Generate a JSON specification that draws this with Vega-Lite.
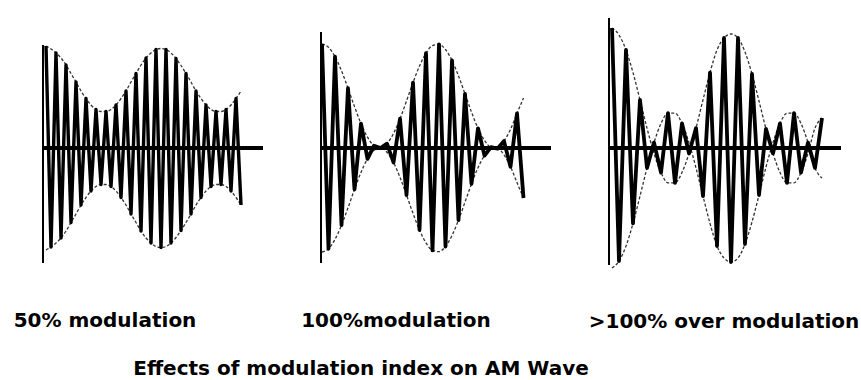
{
  "$schema": "https://vega.github.io/schema/vega-lite/v6.json",
  "background": "white",
  "padding": {"left": 13, "top": 10, "right": 3, "bottom": 0},
  "bounds": "flush",
  "spacing": 58,
  "title": {"text": "Effects of modulation index on AM Wave", "orient": "bottom", "anchor": "middle", "frame": "group", "dx": 318, "offset": 27},
  "config": {
    "view": {"stroke": null},
    "title": {"font": "DejaVu Sans", "fontSize": 20, "fontWeight": "bold", "color": "black"}
  },
  "datasets": {
    "p1": [
      {"t": 3, "c": 1.02, "hi": 1.02, "lo": -1.02},
      {"t": 8, "c": -0.99, "hi": 0.99, "lo": -0.99},
      {"t": 13, "c": 0.95, "hi": 0.95, "lo": -0.95},
      {"t": 18, "c": -0.9, "hi": 0.9, "lo": -0.9},
      {"t": 23, "c": 0.83, "hi": 0.83, "lo": -0.83},
      {"t": 28, "c": -0.745, "hi": 0.745, "lo": -0.745},
      {"t": 33, "c": 0.66, "hi": 0.66, "lo": -0.66},
      {"t": 38, "c": -0.57, "hi": 0.57, "lo": -0.57},
      {"t": 43, "c": 0.495, "hi": 0.495, "lo": -0.495},
      {"t": 48, "c": -0.43, "hi": 0.43, "lo": -0.43},
      {"t": 53, "c": 0.385, "hi": 0.385, "lo": -0.385},
      {"t": 58, "c": -0.365, "hi": 0.365, "lo": -0.365},
      {"t": 63, "c": 0.365, "hi": 0.365, "lo": -0.365},
      {"t": 68, "c": -0.385, "hi": 0.385, "lo": -0.385},
      {"t": 73, "c": 0.43, "hi": 0.43, "lo": -0.43},
      {"t": 78, "c": -0.495, "hi": 0.495, "lo": -0.495},
      {"t": 83, "c": 0.57, "hi": 0.57, "lo": -0.57},
      {"t": 88, "c": -0.66, "hi": 0.66, "lo": -0.66},
      {"t": 93, "c": 0.745, "hi": 0.745, "lo": -0.745},
      {"t": 98, "c": -0.83, "hi": 0.83, "lo": -0.83},
      {"t": 103, "c": 0.9, "hi": 0.9, "lo": -0.9},
      {"t": 108, "c": -0.95, "hi": 0.95, "lo": -0.95},
      {"t": 113, "c": 0.985, "hi": 0.985, "lo": -0.985},
      {"t": 118, "c": -0.995, "hi": 0.995, "lo": -0.995},
      {"t": 123, "c": 0.985, "hi": 0.985, "lo": -0.985},
      {"t": 128, "c": -0.95, "hi": 0.95, "lo": -0.95},
      {"t": 133, "c": 0.895, "hi": 0.895, "lo": -0.895},
      {"t": 138, "c": -0.825, "hi": 0.825, "lo": -0.825},
      {"t": 143, "c": 0.745, "hi": 0.745, "lo": -0.745},
      {"t": 148, "c": -0.66, "hi": 0.66, "lo": -0.66},
      {"t": 153, "c": 0.57, "hi": 0.57, "lo": -0.57},
      {"t": 158, "c": -0.495, "hi": 0.495, "lo": -0.495},
      {"t": 163, "c": 0.43, "hi": 0.43, "lo": -0.43},
      {"t": 168, "c": -0.385, "hi": 0.385, "lo": -0.385},
      {"t": 173, "c": 0.365, "hi": 0.365, "lo": -0.365},
      {"t": 178, "c": -0.365, "hi": 0.365, "lo": -0.365},
      {"t": 183, "c": 0.385, "hi": 0.385, "lo": -0.385},
      {"t": 188, "c": -0.43, "hi": 0.43, "lo": -0.43},
      {"t": 193, "c": 0.495, "hi": 0.495, "lo": -0.495},
      {"t": 198, "c": -0.57, "hi": 0.57, "lo": -0.57}
    ],
    "p2": [
      {"t": 1, "c": 1.04, "hi": 1.04, "lo": -1.04},
      {"t": 7.5, "c": -1.008, "hi": 1.008, "lo": -1.008},
      {"t": 14, "c": 0.914, "hi": 0.914, "lo": -0.914},
      {"t": 20.5, "c": -0.772, "hi": 0.772, "lo": -0.772},
      {"t": 27, "c": 0.598, "hi": 0.598, "lo": -0.598},
      {"t": 33.5, "c": -0.414, "hi": 0.414, "lo": -0.414},
      {"t": 40, "c": 0.244, "hi": 0.244, "lo": -0.244},
      {"t": 46.5, "c": -0.108, "hi": 0.108, "lo": -0.108},
      {"t": 53, "c": 0.023, "hi": 0.023, "lo": -0.023},
      {"t": 59.5, "c": 0, "hi": 0, "lo": 0},
      {"t": 66, "c": 0.043, "hi": 0.043, "lo": -0.043},
      {"t": 72.5, "c": -0.145, "hi": 0.145, "lo": -0.145},
      {"t": 79, "c": 0.293, "hi": 0.293, "lo": -0.293},
      {"t": 85.5, "c": -0.47, "hi": 0.47, "lo": -0.47},
      {"t": 92, "c": 0.653, "hi": 0.653, "lo": -0.653},
      {"t": 98.5, "c": -0.82, "hi": 0.82, "lo": -0.82},
      {"t": 105, "c": 0.949, "hi": 0.949, "lo": -0.949},
      {"t": 111.5, "c": -1.024, "hi": 1.024, "lo": -1.024},
      {"t": 118, "c": 1.037, "hi": 1.037, "lo": -1.037},
      {"t": 124.5, "c": -0.985, "hi": 0.985, "lo": -0.985},
      {"t": 131, "c": 0.875, "hi": 0.875, "lo": -0.875},
      {"t": 137.5, "c": -0.721, "hi": 0.721, "lo": -0.721},
      {"t": 144, "c": 0.541, "hi": 0.541, "lo": -0.541},
      {"t": 150.5, "c": -0.359, "hi": 0.359, "lo": -0.359},
      {"t": 157, "c": 0.197, "hi": 0.197, "lo": -0.197},
      {"t": 163.5, "c": -0.076, "hi": 0.076, "lo": -0.076},
      {"t": 170, "c": 0.009, "hi": 0.009, "lo": -0.009},
      {"t": 176.5, "c": -0.007, "hi": 0.007, "lo": -0.007},
      {"t": 183, "c": 0.069, "hi": 0.069, "lo": -0.069},
      {"t": 189.5, "c": -0.187, "hi": 0.187, "lo": -0.187},
      {"t": 196, "c": 0.346, "hi": 0.346, "lo": -0.346},
      {"t": 202.5, "c": -0.5, "hi": 0.5, "lo": -0.5}
    ],
    "p3": [
      {"t": 3, "c": 1.2, "hi": 1.2, "lo": -1.2},
      {"t": 10, "c": -1.13, "hi": 1.13, "lo": -1.13},
      {"t": 17, "c": 0.98, "hi": 0.98, "lo": -0.98},
      {"t": 24, "c": -0.754, "hi": 0.754, "lo": -0.754},
      {"t": 31, "c": 0.481, "hi": 0.481, "lo": -0.481},
      {"t": 38, "c": -0.199, "hi": 0.199, "lo": -0.199},
      {"t": 45, "c": 0.054, "hi": -0.054, "lo": 0.054},
      {"t": 52, "c": -0.245, "hi": -0.245, "lo": 0.245},
      {"t": 59, "c": 0.348, "hi": -0.348, "lo": 0.348},
      {"t": 66, "c": -0.348, "hi": -0.348, "lo": 0.348},
      {"t": 73, "c": 0.245, "hi": -0.245, "lo": 0.245},
      {"t": 80, "c": -0.054, "hi": -0.054, "lo": 0.054},
      {"t": 87, "c": 0.199, "hi": 0.199, "lo": -0.199},
      {"t": 94, "c": -0.481, "hi": 0.481, "lo": -0.481},
      {"t": 101, "c": 0.754, "hi": 0.754, "lo": -0.754},
      {"t": 108, "c": -0.98, "hi": 0.98, "lo": -0.98},
      {"t": 115, "c": 1.1, "hi": 1.1, "lo": -1.1},
      {"t": 122, "c": -1.14, "hi": 1.14, "lo": -1.14},
      {"t": 129, "c": 1.1, "hi": 1.1, "lo": -1.1},
      {"t": 136, "c": -0.96, "hi": 0.96, "lo": -0.96},
      {"t": 143, "c": 0.74, "hi": 0.74, "lo": -0.74},
      {"t": 150, "c": -0.47, "hi": 0.47, "lo": -0.47},
      {"t": 157, "c": 0.19, "hi": 0.19, "lo": -0.19},
      {"t": 164, "c": -0.054, "hi": -0.054, "lo": 0.054},
      {"t": 171, "c": 0.245, "hi": -0.245, "lo": 0.245},
      {"t": 178, "c": -0.348, "hi": -0.348, "lo": 0.348},
      {"t": 185, "c": 0.348, "hi": -0.348, "lo": 0.348},
      {"t": 192, "c": -0.245, "hi": -0.245, "lo": 0.245},
      {"t": 199, "c": 0.054, "hi": -0.054, "lo": 0.054},
      {"t": 206, "c": -0.199, "hi": 0.199, "lo": -0.199},
      {"t": 213, "c": 0.3, "hi": 0.3, "lo": -0.3}
    ]
  },
  "hconcat": [
    {
      "width": 220, "height": 260,
      "title": {"text": "50% modulation", "orient": "bottom", "anchor": "middle", "dx": -48, "offset": 41},
      "data": {"name": "p1"},
      "encoding": {
        "x": {"field": "t", "type": "quantitative", "scale": {"domain": [0, 220], "nice": false, "zero": false}, "axis": null}
      },
      "layer": [
        {"mark": {"type": "line", "color": "#333", "strokeWidth": 1.3, "strokeDash": [3, 2], "interpolate": "monotone"},
         "encoding": {"y": {"field": "hi", "type": "quantitative", "scale": {"domain": [-1.22, 1.38], "nice": false, "zero": false}, "axis": null}}},
        {"mark": {"type": "line", "color": "#333", "strokeWidth": 1.3, "strokeDash": [3, 2], "interpolate": "monotone"},
         "encoding": {"y": {"field": "lo", "type": "quantitative"}}},
        {"mark": {"type": "line", "color": "black", "strokeWidth": 3.4, "strokeJoin": "round"},
         "encoding": {"y": {"field": "c", "type": "quantitative"}}},
        {"mark": {"type": "rule", "color": "black", "strokeWidth": 4},
         "encoding": {"x": {"datum": 0}, "x2": {"datum": 220}, "y": {"datum": 0}}},
        {"mark": {"type": "rule", "color": "black", "strokeWidth": 2},
         "encoding": {"x": {"datum": 0}, "y": {"datum": -1.15}, "y2": {"datum": 1.03}}}
      ]
    },
    {
      "width": 230, "height": 260,
      "title": {"text": "100%modulation", "orient": "bottom", "anchor": "middle", "dx": -40, "offset": 41},
      "data": {"name": "p2"},
      "encoding": {
        "x": {"field": "t", "type": "quantitative", "scale": {"domain": [0, 230], "nice": false, "zero": false}, "axis": null}
      },
      "layer": [
        {"mark": {"type": "line", "color": "#333", "strokeWidth": 1.3, "strokeDash": [3, 2], "interpolate": "monotone"},
         "encoding": {"y": {"field": "hi", "type": "quantitative", "scale": {"domain": [-1.22, 1.38], "nice": false, "zero": false}, "axis": null}}},
        {"mark": {"type": "line", "color": "#333", "strokeWidth": 1.3, "strokeDash": [3, 2], "interpolate": "monotone"},
         "encoding": {"y": {"field": "lo", "type": "quantitative"}}},
        {"mark": {"type": "line", "color": "black", "strokeWidth": 3.8, "strokeJoin": "round"},
         "encoding": {"y": {"field": "c", "type": "quantitative"}}},
        {"mark": {"type": "rule", "color": "black", "strokeWidth": 4},
         "encoding": {"x": {"datum": 0}, "x2": {"datum": 230}, "y": {"datum": 0}}},
        {"mark": {"type": "rule", "color": "black", "strokeWidth": 2},
         "encoding": {"x": {"datum": 0}, "y": {"datum": -1.15}, "y2": {"datum": 1.16}}}
      ]
    },
    {
      "width": 232, "height": 260,
      "title": {"text": ">100% over modulation", "orient": "bottom", "anchor": "middle", "dx": -1, "offset": 41},
      "data": {"name": "p3"},
      "encoding": {
        "x": {"field": "t", "type": "quantitative", "scale": {"domain": [0, 232], "nice": false, "zero": false}, "axis": null}
      },
      "layer": [
        {"mark": {"type": "line", "color": "#333", "strokeWidth": 1.3, "strokeDash": [3, 2], "interpolate": "monotone"},
         "encoding": {"y": {"field": "hi", "type": "quantitative", "scale": {"domain": [-1.22, 1.38], "nice": false, "zero": false}, "axis": null}}},
        {"mark": {"type": "line", "color": "#333", "strokeWidth": 1.3, "strokeDash": [3, 2], "interpolate": "monotone"},
         "encoding": {"y": {"field": "lo", "type": "quantitative"}}},
        {"mark": {"type": "line", "color": "black", "strokeWidth": 3.8, "strokeJoin": "round"},
         "encoding": {"y": {"field": "c", "type": "quantitative"}}},
        {"mark": {"type": "rule", "color": "black", "strokeWidth": 4},
         "encoding": {"x": {"datum": 0}, "x2": {"datum": 232}, "y": {"datum": 0}}},
        {"mark": {"type": "rule", "color": "black", "strokeWidth": 2},
         "encoding": {"x": {"datum": 0}, "y": {"datum": -1.17}, "y2": {"datum": 1.3}}}
      ]
    }
  ]
}
